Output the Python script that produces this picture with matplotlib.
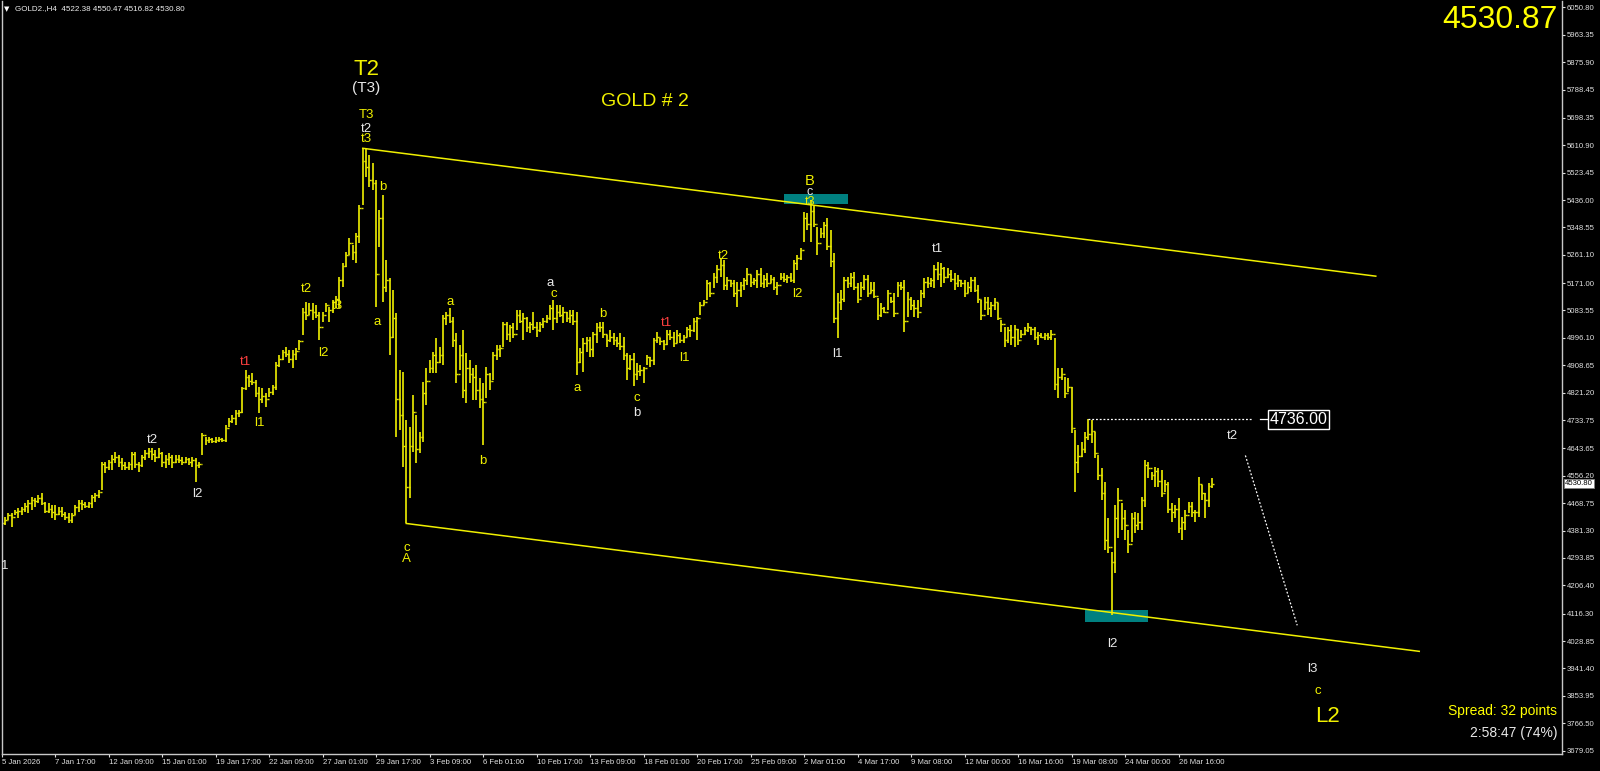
import numpy as np
import matplotlib.pyplot as plt
from matplotlib.transforms import blended_transform_factory

plt.rcParams['font.family'] = ['Liberation Sans', 'DejaVu Sans']

# GOLD2 H4 bars as (high, low, close); open of each bar = close of the one before
first_open = 4372.0
w01 = [(4420, 4351, 4405), (4426, 4399, 4415), (4436, 4415, 4430), (4436, 4394, 4425), (4447, 4431, 4440),
       (4452, 4420, 4445), (4457, 4431, 4450), (4468, 4442, 4460), (4479, 4436, 4470), (4489, 4447, 4480),
       (4484, 4457, 4475), (4495, 4468, 4485), (4500, 4463, 4470), (4473, 4436, 4445), (4468, 4436, 4450),
       (4463, 4420, 4440), (4463, 4415, 4435), (4457, 4431, 4445), (4457, 4426, 4435), (4442, 4415, 4425),
       (4436, 4405, 4415), (4436, 4405, 4430), (4463, 4431, 4455), (4479, 4442, 4470), (4479, 4447, 4465),
       (4473, 4452, 4460), (4473, 4452, 4468), (4495, 4452, 4490), (4500, 4473, 4495), (4511, 4484, 4505)]
w02 = [(4601, 4511, 4595), (4601, 4564, 4585), (4606, 4574, 4600), (4622, 4574, 4610), (4633, 4596, 4615),
       (4622, 4585, 4600), (4612, 4574, 4590), (4601, 4574, 4585), (4601, 4574, 4595), (4633, 4574, 4625),
       (4633, 4580, 4595), (4601, 4569, 4590), (4622, 4585, 4615), (4638, 4606, 4630), (4644, 4612, 4635),
       (4644, 4606, 4625), (4638, 4601, 4615), (4644, 4612, 4630), (4633, 4585, 4600), (4622, 4580, 4610),
       (4628, 4590, 4615), (4622, 4580, 4600), (4622, 4596, 4610), (4622, 4596, 4605), (4617, 4590, 4600),
       (4617, 4596, 4610), (4612, 4590, 4600), (4617, 4585, 4605), (4612, 4537, 4590), (4601, 4580, 4595)]
w03 = [(4692, 4622, 4685), (4681, 4654, 4670), (4681, 4660, 4675), (4676, 4660, 4668), (4681, 4660, 4670),
       (4681, 4665, 4675), (4676, 4665, 4670), (4718, 4665, 4710), (4739, 4713, 4730), (4750, 4723, 4740),
       (4766, 4718, 4755), (4766, 4745, 4760), (4840, 4755, 4835), (4893, 4830, 4870), (4878, 4840, 4860),
       (4883, 4846, 4855), (4862, 4809, 4820), (4840, 4755, 4800), (4835, 4787, 4810), (4819, 4777, 4800),
       (4835, 4809, 4825), (4846, 4814, 4840), (4920, 4830, 4910), (4941, 4904, 4930), (4957, 4925, 4950),
       (4968, 4936, 4945), (4957, 4915, 4930), (4957, 4899, 4945), (4963, 4925, 4955), (4989, 4957, 4985)]
w04 = [(5090, 5005, 5080), (5112, 5053, 5070), (5106, 5069, 5085), (5106, 5053, 5080), (5101, 5058, 5070),
       (5080, 4989, 5030), (5080, 5048, 5070), (5106, 5080, 5100), (5096, 5048, 5085), (5117, 5074, 5110),
       (5130, 5090, 5120), (5191, 5090, 5180), (5234, 5159, 5225), (5271, 5223, 5260), (5314, 5260, 5300),
       (5292, 5244, 5270), (5330, 5234, 5320), (5420, 5300, 5410), (5601, 5420, 5560), (5601, 5510, 5540),
       (5579, 5478, 5500), (5553, 5468, 5490), (5500, 5096, 5200), (5404, 5287, 5380), (5452, 5112, 5160),
       (5244, 5143, 5180), (5186, 4941, 5000), (5149, 4995, 5060), (5074, 4681, 4800), (4893, 4702, 4750)]
w05 = [(4888, 4585, 4650), (4734, 4404, 4520), (4713, 4484, 4650), (4814, 4633, 4760), (4750, 4596, 4640),
       (4697, 4628, 4680), (4856, 4665, 4820), (4899, 4782, 4860), (4925, 4883, 4900), (4952, 4883, 4940),
       (4995, 4883, 4920), (4968, 4915, 4940), (5069, 4909, 5060), (5080, 5037, 5070), (5090, 5042, 5050),
       (5064, 4968, 4990), (5011, 4851, 4880), (4973, 4893, 4940), (5021, 4803, 4830), (4947, 4787, 4900),
       (4925, 4851, 4880), (4899, 4798, 4870), (4909, 4798, 4830), (4867, 4771, 4800), (4851, 4654, 4790),
       (4904, 4803, 4880), (4883, 4830, 4860), (4952, 4862, 4940), (4973, 4925, 4960), (4973, 4936, 4965)]
w06 = [(5048, 4968, 5040), (5048, 4989, 5010), (5037, 4984, 5030), (5042, 4995, 5010), (5085, 5021, 5070),
       (5085, 5042, 5050), (5074, 4989, 5060), (5064, 5016, 5030), (5048, 5011, 5040), (5080, 5021, 5030),
       (5048, 5000, 5020), (5048, 5016, 5040), (5058, 5027, 5050), (5069, 5042, 5060), (5101, 5053, 5090),
       (5117, 5021, 5060), (5101, 5042, 5080), (5101, 5064, 5070), (5096, 5042, 5080), (5080, 5048, 5060),
       (5085, 5042, 5070), (5085, 5037, 5050), (5080, 4878, 4920), (4963, 4915, 4950), (4995, 4888, 4980),
       (5000, 4952, 4990), (5000, 4936, 4960), (5016, 4936, 5010), (5042, 4979, 5030), (5048, 5016, 5030)]
w07 = [(5048, 4995, 5010), (5005, 4968, 4990), (5021, 4984, 5000), (5011, 4973, 4990), (5000, 4968, 4980),
       (5011, 4958, 4970), (5000, 4926, 4940), (4947, 4862, 4900), (4942, 4894, 4930), (4947, 4841, 4880),
       (4915, 4862, 4890), (4910, 4873, 4895), (4904, 4851, 4900), (4942, 4910, 4935), (4936, 4904, 4925),
       (4995, 4910, 4990), (5016, 4979, 5000), (4995, 4974, 4985), (4989, 4958, 4975), (5021, 4974, 5010),
       (5021, 4989, 5000), (5016, 4968, 4980), (5021, 4979, 5005), (5011, 4979, 4990), (5005, 4979, 5000),
       (5032, 5000, 5025), (5037, 5000, 5020), (5059, 5016, 5050), (5064, 4989, 5060), (5112, 5069, 5100)]
w08 = [(5117, 5101, 5110), (5181, 5117, 5170), (5175, 5128, 5140), (5202, 5154, 5190), (5229, 5170, 5215),
       (5250, 5191, 5230), (5245, 5149, 5165), (5191, 5149, 5180), (5181, 5160, 5170), (5181, 5128, 5140),
       (5175, 5096, 5150), (5175, 5128, 5165), (5186, 5149, 5180), (5218, 5165, 5200), (5197, 5160, 5175),
       (5186, 5165, 5180), (5213, 5154, 5200), (5218, 5160, 5170), (5197, 5154, 5185), (5202, 5160, 5170),
       (5197, 5170, 5185), (5191, 5149, 5160), (5175, 5133, 5165), (5202, 5181, 5190), (5202, 5175, 5185),
       (5197, 5170, 5190), (5202, 5175, 5180), (5245, 5170, 5235), (5260, 5213, 5250), (5282, 5245, 5275)]
w09 = [(5399, 5303, 5380), (5393, 5340, 5360), (5436, 5303, 5400), (5420, 5351, 5360), (5351, 5260, 5300),
       (5346, 5314, 5330), (5367, 5314, 5355), (5377, 5276, 5290), (5340, 5223, 5240), (5266, 5043, 5060),
       (5138, 4995, 5110), (5149, 5085, 5120), (5191, 5112, 5180), (5191, 5154, 5170), (5202, 5160, 5190),
       (5207, 5149, 5160), (5170, 5106, 5120), (5175, 5128, 5160), (5197, 5149, 5185), (5197, 5128, 5140),
       (5175, 5138, 5150), (5175, 5122, 5130), (5122, 5053, 5070), (5106, 5064, 5090), (5096, 5074, 5080),
       (5149, 5085, 5140), (5128, 5106, 5115), (5138, 5064, 5075), (5175, 5128, 5165), (5175, 5149, 5160)]
w10 = [(5181, 5016, 5050), (5143, 5064, 5120), (5127, 5085, 5100), (5117, 5064, 5090), (5117, 5058, 5080),
       (5149, 5096, 5140), (5186, 5122, 5175), (5191, 5154, 5170), (5186, 5159, 5180), (5228, 5154, 5215),
       (5239, 5181, 5200), (5234, 5159, 5220), (5223, 5170, 5190), (5218, 5186, 5200), (5213, 5175, 5185),
       (5202, 5149, 5170), (5197, 5159, 5180), (5181, 5159, 5170), (5181, 5127, 5140), (5175, 5138, 5160),
       (5191, 5143, 5180), (5191, 5143, 5150), (5165, 5106, 5120), (5117, 5053, 5070), (5127, 5085, 5110),
       (5127, 5069, 5090), (5112, 5064, 5100), (5122, 5085, 5110), (5106, 5053, 5060), (5053, 5016, 5040)]
w11 = [(5032, 4968, 4990), (5032, 4979, 5020), (5037, 4973, 5000), (5037, 4968, 5025), (5026, 4973, 4990),
       (5021, 4995, 5010), (5032, 5005, 5020), (5042, 5016, 5030), (5032, 5005, 5025), (5032, 4989, 5000),
       (5016, 4973, 5005), (5011, 4995, 5000), (5011, 4989, 5005), (5011, 4989, 4998), (5021, 4989, 5010),
       (4995, 4830, 4850), (4899, 4803, 4870), (4899, 4862, 4880), (4872, 4803, 4820), (4867, 4824, 4840),
       (4840, 4692, 4710), (4702, 4505, 4600), (4654, 4564, 4620), (4665, 4617, 4640), (4697, 4628, 4680),
       (4736, 4670, 4690), (4734, 4660, 4700), (4697, 4612, 4630), (4622, 4543, 4560), (4580, 4479, 4500)]
w12 = [(4537, 4319, 4350), (4420, 4309, 4330), (4314, 4112, 4280), (4463, 4245, 4420), (4516, 4357, 4480),
       (4468, 4383, 4420), (4447, 4351, 4400), (4383, 4309, 4340), (4436, 4346, 4420), (4442, 4372, 4400),
       (4436, 4383, 4410), (4489, 4383, 4480), (4606, 4458, 4590), (4601, 4548, 4580), (4569, 4543, 4560),
       (4585, 4521, 4570), (4580, 4521, 4540), (4575, 4489, 4500), (4543, 4505, 4530), (4537, 4436, 4450),
       (4468, 4410, 4440), (4463, 4420, 4450), (4484, 4372, 4390), (4426, 4351, 4410), (4447, 4383, 4430),
       (4474, 4436, 4460), (4474, 4426, 4440), (4447, 4410, 4440), (4553, 4426, 4530), (4527, 4479, 4500),
       (4500, 4420, 4480), (4532, 4458, 4522.38), (4550.47, 4516.82, 4530.80)]

time_labels = ['5 Jan 2026', '7 Jan 17:00', '12 Jan 09:00', '15 Jan 01:00', '19 Jan 17:00', '22 Jan 09:00',
               '27 Jan 01:00', '29 Jan 17:00', '3 Feb 09:00', '6 Feb 01:00', '10 Feb 17:00', '13 Feb 09:00',
               '18 Feb 01:00', '20 Feb 17:00', '25 Feb 09:00', '2 Mar 01:00', '4 Mar 17:00', '9 Mar 08:00',
               '12 Mar 00:00', '16 Mar 16:00', '19 Mar 08:00', '24 Mar 00:00', '26 Mar 16:00']
price_ticks = [6050.80, 5963.35, 5875.90, 5788.45, 5698.35, 5610.90, 5523.45, 5436.00, 5348.55, 5261.10,
               5171.00, 5083.55, 4996.10, 4908.65, 4821.20, 4733.75, 4643.65, 4556.20, 4468.75, 4381.30,
               4293.85, 4206.40, 4116.30, 4028.85, 3941.40, 3853.95, 3766.50, 3679.05]

# drawn objects (bar index, price)
channel_top = [(108, 5601), (411, 5193)]
channel_bottom = [(121, 4404), (424, 3996)]
zones = [(234, 253, 5422, 5455), (324, 343, 4091, 4128)]
level_4736 = 4736.00
projection = [(372, 4621), (387.5, 4079)]

# wave labels: text, bar, price, colour, size
Y, W = '#f0f000', '#e8e8e8'
wave_labels = [
    ('T2', 109, 5851, Y, 16), ('(T3)', 109, 5793, W, 11), ('T3', 109, 5706, Y, 9.5),
    ('t2', 109, 5662, W, 9.5), ('t3', 109, 5631, Y, 9.5), ('b', 114, 5477, Y, 9.5),
    ('a', 112.3, 5047, Y, 9.5), ('t2', 91.2, 5152, Y, 9.5), ('t3', 100.3, 5098, Y, 9.5),
    ('l2', 96.1, 4948, Y, 9.5), ('t2', 45, 4670, W, 9.5), ('l2', 58.4, 4498, W, 9.5),
    ('t1', 73, 4919, '#ff4040', 9.5), ('l1', 77, 4725, Y, 9.5), ('1', 1, 4268, W, 9.5),
    ('a', 134.1, 5111, Y, 9.5), ('b', 144, 4603, Y, 9.5), ('a', 164, 5171, W, 9.5),
    ('c', 165, 5136, Y, 9.5), ('a', 172.1, 4836, Y, 9.5), ('b', 179.9, 5072, Y, 9.5),
    ('c', 121.2, 4326, Y, 9.5), ('A', 121.2, 4291, Y, 9.5), ('c', 190, 4804, Y, 9.5),
    ('b', 190, 4757, W, 9.5), ('t1', 198.7, 5044, '#ff4040', 9.5), ('l1', 204.1, 4932, Y, 9.5),
    ('t2', 215.8, 5257, Y, 9.5), ('l2', 237.9, 5136, Y, 9.5), ('B', 241.8, 5497, Y, 10.5),
    ('c', 241.8, 5460, W, 9), ('t3', 241.8, 5430, Y, 9), ('l1', 249.9, 4945, W, 9.5),
    ('t1', 279.8, 5280, W, 9.5), ('t2', 368, 4683, W, 9.5), ('l2', 332.1, 4020, W, 9.5),
    ('l3', 392, 3940, W, 9.5), ('c', 393.8, 3870, Y, 9.5), ('L2', 396.7, 3787, Y, 16),
    ('GOLD # 2', 192.4, 5749, Y, 14),
]

bars = w01 + w02 + w03 + w04 + w05 + w06 + w07 + w08 + w09 + w10 + w11 + w12
high = np.array([b[0] for b in bars], dtype=float)
low = np.array([b[1] for b in bars], dtype=float)
close = np.array([b[2] for b in bars], dtype=float)
opens = np.concatenate([[first_open], close[:-1]])
idx = np.arange(len(bars))

fig = plt.figure(figsize=(16, 7.71), dpi=100, facecolor='black')
ax = fig.add_axes([1.5 / 1600, 17 / 771, 1560.5 / 1600, 753 / 771])
ax.set_facecolor('black')
ax.set_xlim(-0.06, 466.7)
ax.set_ylim(3668.5, 6070.9)

bar_col = '#e6e600'
ax.vlines(idx, low, high, color=bar_col, lw=1.25)
ax.hlines(opens, idx - 0.5, idx, color=bar_col, lw=1.0)
ax.hlines(close, idx, idx + 0.5, color=bar_col, lw=1.0)

# channel
for line in (channel_top, channel_bottom):
    ax.plot([p[0] for p in line], [p[1] for p in line], color='#f0f000', lw=1.1)

for x0, x1, y0, y1 in zones:
    ax.fill_between([x0, x1], y0, y1, color='#008080', lw=0)

# 4736 level and projection
ax.plot([325, 374], [level_4736, level_4736], color='white', lw=0.9, ls=(0, (1.5, 1.5)))
ax.plot([376.4, 378.8], [level_4736, level_4736], color='white', lw=0.9)
ax.text(379.2, level_4736, '%.2f' % level_4736, color='white', fontsize=11.5, ha='left', va='center',
        bbox=dict(boxstyle='square,pad=0.12', fc='black', ec='white', lw=1.0))
ax.plot([p[0] for p in projection], [p[1] for p in projection], color='white', lw=0.9, ls=(0, (1.5, 1.5)))

for txt, bx, py, col, size in wave_labels:
    ax.text(bx, py, txt, color=col, fontsize=size, ha='center', va='center')

# axes styling (MT4 look)
for side in ('left', 'bottom', 'right'):
    ax.spines[side].set_color('#c8c8c8')
    ax.spines[side].set_linewidth(1.0)
ax.spines['top'].set_visible(False)

ax.yaxis.tick_right()
ax.set_yticks(price_ticks)
ax.set_yticklabels(['%.2f' % p for p in price_ticks])
ax.tick_params(axis='y', colors='#e0e0e0', labelsize=5.6, length=2.2, width=0.8, pad=1.2)

ax.set_xticks(np.arange(0, 16 * len(time_labels), 16))
ax.set_xticklabels(time_labels)
ax.tick_params(axis='x', colors='#e0e0e0', labelsize=5.6, length=2.2, width=0.8, pad=1.5)
for lbl in ax.get_xticklabels():
    lbl.set_ha('left')

# current price marker on the scale
tr = blended_transform_factory(ax.transAxes, ax.transData)
ax.text(1.0018, close[-1], '%.2f' % close[-1], transform=tr, color='black', fontsize=5.6,
        ha='left', va='center', bbox=dict(boxstyle='square,pad=0.15', fc='white', ec='#808080', lw=0.6))

# header and info texts
fig.text(4 / 1600, 1 - 9 / 771, '\u25bc', color='white', fontsize=5, ha='left', va='center',
         family=['DejaVu Sans'])
fig.text(15 / 1600, 1 - 9 / 771, 'GOLD2.,H4  4522.38 4550.47 4516.82 4530.80', color='#f0f0f0',
         fontsize=5.8, ha='left', va='center')
fig.text(1558 / 1600, 1 - 20 / 771, '4530.87', color='#ffff00', fontsize=23, ha='right', va='center')
fig.text(1557 / 1600, 1 - 711 / 771, 'Spread: 32 points', color='#ffff00', fontsize=10, ha='right', va='center')
fig.text(1557 / 1600, 1 - 733 / 771, '2:58:47 (74%)', color='#e8e8e8', fontsize=10, ha='right', va='center')

fig.savefig('out.png', dpi=100, facecolor='black')
